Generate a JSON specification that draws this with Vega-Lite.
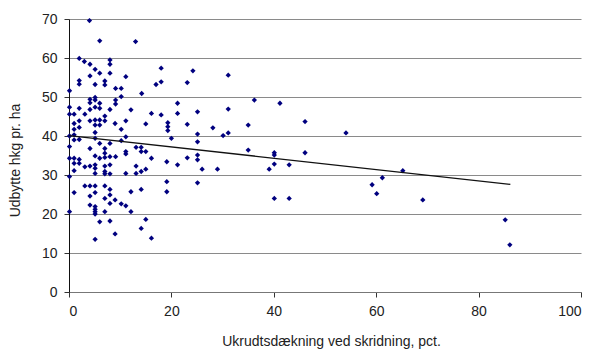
{
  "$schema": "https://vega.github.io/schema/vega-lite/v6.json",
  "width": 512,
  "height": 273,
  "autosize": {"type": "none"},
  "padding": {"left": 69, "top": 19, "right": 14, "bottom": 60},
  "background": "white",
  "config": {
    "view": {"stroke": null},
    "font": "Liberation Sans",
    "axis": {
      "labelFont": "Liberation Sans",
      "titleFont": "Liberation Sans",
      "labelFontSize": 14,
      "titleFontSize": 14,
      "titleFontWeight": "normal",
      "labelColor": "#222",
      "titleColor": "#222",
      "tickColor": "#333",
      "domainColor": "#333",
      "tickSize": 5,
      "labelOverlap": false
    }
  },
  "datasets": {
    "pts": [
      {"x":4,"y":69.6},{"x":6,"y":64.4},{"x":13,"y":64.2},{"x":2,"y":59.9},{"x":3,"y":59.1},{"x":4.1,"y":58.4},{"x":5.1,"y":57.1},{"x":6,"y":56.1},{"x":8,"y":59.5},{"x":8,"y":58.4},{"x":8,"y":56.1},{"x":11.1,"y":55.2},{"x":18,"y":57.4},{"x":18,"y":53.9},{"x":17,"y":53.2},{"x":4.1,"y":55.4},{"x":2,"y":54.2},{"x":2,"y":53.3},{"x":5.1,"y":53.2},{"x":7,"y":54.1},{"x":7,"y":53.1},{"x":9.1,"y":52.2},{"x":10.2,"y":52.2},{"x":10.2,"y":50.1},{"x":14.2,"y":50.9},{"x":0.1,"y":51.6},{"x":4.1,"y":49.4},{"x":4.1,"y":48.5},{"x":5.1,"y":49.9},{"x":5.1,"y":49.2},{"x":6,"y":48.4},{"x":9.1,"y":49.2},{"x":9.1,"y":48.2},{"x":0.1,"y":47.4},{"x":2,"y":47.1},{"x":4.1,"y":46.8},{"x":5.1,"y":47.4},{"x":6,"y":47.1},{"x":8,"y":46.8},{"x":12.1,"y":46.7},{"x":16.1,"y":45.8},{"x":18,"y":45.4},{"x":21.2,"y":45.8},
      {"x":0.1,"y":45.6},{"x":1,"y":45.6},{"x":3.1,"y":45.6},{"x":7,"y":45.1},{"x":2,"y":43.9},{"x":4.1,"y":43.9},{"x":5.1,"y":44.1},{"x":5.1,"y":42.8},{"x":6,"y":44.1},{"x":6,"y":42.8},{"x":7,"y":43.9},{"x":11.1,"y":43.9},{"x":15,"y":43.1},{"x":19.3,"y":43.4},{"x":19.3,"y":42.4},{"x":19.3,"y":41.4},{"x":20,"y":39.4},{"x":1,"y":43.2},{"x":1,"y":41.7},{"x":2,"y":42.2},{"x":9,"y":43.2},{"x":10.2,"y":41.7},{"x":5.1,"y":40.9},{"x":11.1,"y":39.8},{"x":0.1,"y":40},{"x":1,"y":40.3},{"x":0.1,"y":37.3},{"x":1,"y":39},{"x":2,"y":39.1},{"x":5.1,"y":39.4},
      {"x":4.1,"y":36.8},{"x":6,"y":38.1},{"x":7,"y":36.8},{"x":7,"y":35.6},{"x":8,"y":38.1},{"x":9.1,"y":34.7},{"x":10.2,"y":38.8},{"x":11.1,"y":36},{"x":11.1,"y":35.4},{"x":13.1,"y":37.1},{"x":14.1,"y":37.1},{"x":14.1,"y":36},{"x":15,"y":36},{"x":16.1,"y":34.3},{"x":0.1,"y":34.3},{"x":1,"y":34.3},{"x":5.1,"y":34.9},{"x":6,"y":34.3},{"x":8,"y":34.7},
      {"x":2,"y":34},{"x":7,"y":34.5},{"x":1,"y":33},{"x":2,"y":33},{"x":1,"y":31.1},{"x":3.1,"y":32.1},{"x":4.1,"y":32.3},{"x":5.1,"y":32.6},{"x":5.1,"y":31.7},{"x":5.1,"y":30.4},{"x":7,"y":32.3},{"x":7,"y":30.9},{"x":7,"y":30.3},{"x":8,"y":32.6},{"x":8,"y":30.3},{"x":11.1,"y":30.4},{"x":13.1,"y":32.3},{"x":13.1,"y":30.4},{"x":14.1,"y":30.9},{"x":15,"y":31.5},{"x":19.1,"y":33.4},{"x":21.2,"y":32.6},{"x":0.1,"y":29.6},{"x":19.1,"y":28.3},{"x":19.1,"y":25.7},{"x":1,"y":25.5},{"x":3.1,"y":27.2},{"x":4.1,"y":27.2},{"x":5.1,"y":27.2},{"x":4.1,"y":24.6},{"x":5.1,"y":25.5},{"x":7,"y":27.2},{"x":8,"y":26.3},{"x":8,"y":24.9},{"x":7,"y":24},{"x":8,"y":22.7},{"x":9,"y":23.6},{"x":10.2,"y":22.6},{"x":11.1,"y":22.1},{"x":12.1,"y":25.7},{"x":12.1,"y":20.6},{"x":14.1,"y":26.3},{"x":4.1,"y":22.3},{"x":5.1,"y":21.9},{"x":5.1,"y":21.2},{"x":5.1,"y":20.6},{"x":5.1,"y":20},{"x":7,"y":20.6},{"x":0.1,"y":20.6},{"x":6,"y":18},{"x":8,"y":18.2},{"x":15,"y":18.6},{"x":14.1,"y":16.3},{"x":9,"y":14.9},{"x":5.1,"y":13.5},{"x":16.1,"y":13.8},
      {"x":24.2,"y":56.7},{"x":31.1,"y":55.6},{"x":23.1,"y":53.7},{"x":21.2,"y":48.4},{"x":25.1,"y":46.2},{"x":31.1,"y":46.9},{"x":36.2,"y":49.2},{"x":41.2,"y":48.4},{"x":23.1,"y":43},{"x":28.1,"y":42.1},{"x":35,"y":42.8},{"x":46.1,"y":43.7},{"x":54.1,"y":40.8},{"x":25.1,"y":40.5},{"x":30.1,"y":40.1},{"x":31.1,"y":40.8},{"x":25.1,"y":38.5},{"x":35,"y":36.4},{"x":40.1,"y":35.7},{"x":40.1,"y":35.1},{"x":46.1,"y":35.7},{"x":23.1,"y":34.4},{"x":25.1,"y":35.1},{"x":25.1,"y":33.9},{"x":26,"y":31.5},{"x":29,"y":31.5},{"x":39.1,"y":31.5},{"x":40.1,"y":32.8},{"x":43,"y":32.6},{"x":25.1,"y":28},{"x":40.1,"y":24},{"x":43,"y":24},
      {"x":65.2,"y":31.1},{"x":61.2,"y":29.3},{"x":59.2,"y":27.5},{"x":60.1,"y":25.2},{"x":69.1,"y":23.6},{"x":85.2,"y":18.5},{"x":86.1,"y":12.1}
    ],
    "trend": [{"x": 0, "y": 40.1}, {"x": 86.2, "y": 27.6}]
  },
  "encoding": {
    "x": {
      "field": "x", "type": "quantitative",
      "scale": {"domain": [0, 100], "nice": false, "zero": false},
      "axis": {"values": [0, 20, 40, 60, 80, 100], "tickCount": 6, "grid": false, "title": "Ukrudtsdækning ved skridning, pct.", "labelPadding": 7, "titlePadding": 16, "titleX": 262, "domainColor": "#777"}
    },
    "y": {
      "field": "y", "type": "quantitative",
      "scale": {"domain": [0, 70], "nice": false, "zero": false},
      "axis": {"values": [0, 10, 20, 30, 40, 50, 60, 70], "tickCount": 8, "grid": true, "gridColor": "#8a8a8a", "gridWidth": 1, "title": "Udbytte hkg pr. ha", "labelPadding": 7, "titlePadding": 19, "titleY": 141, "domainColor": "#111"}
    }
  },
  "layer": [
    {
      "data": {"name": "pts"},
      "mark": {"type": "point", "shape": "diamond", "filled": true, "color": "#00007f", "size": 28, "opacity": 1}
    },
    {
      "data": {"name": "trend"},
      "mark": {"type": "line", "color": "#111", "strokeWidth": 1.3}
    }
  ]
}
